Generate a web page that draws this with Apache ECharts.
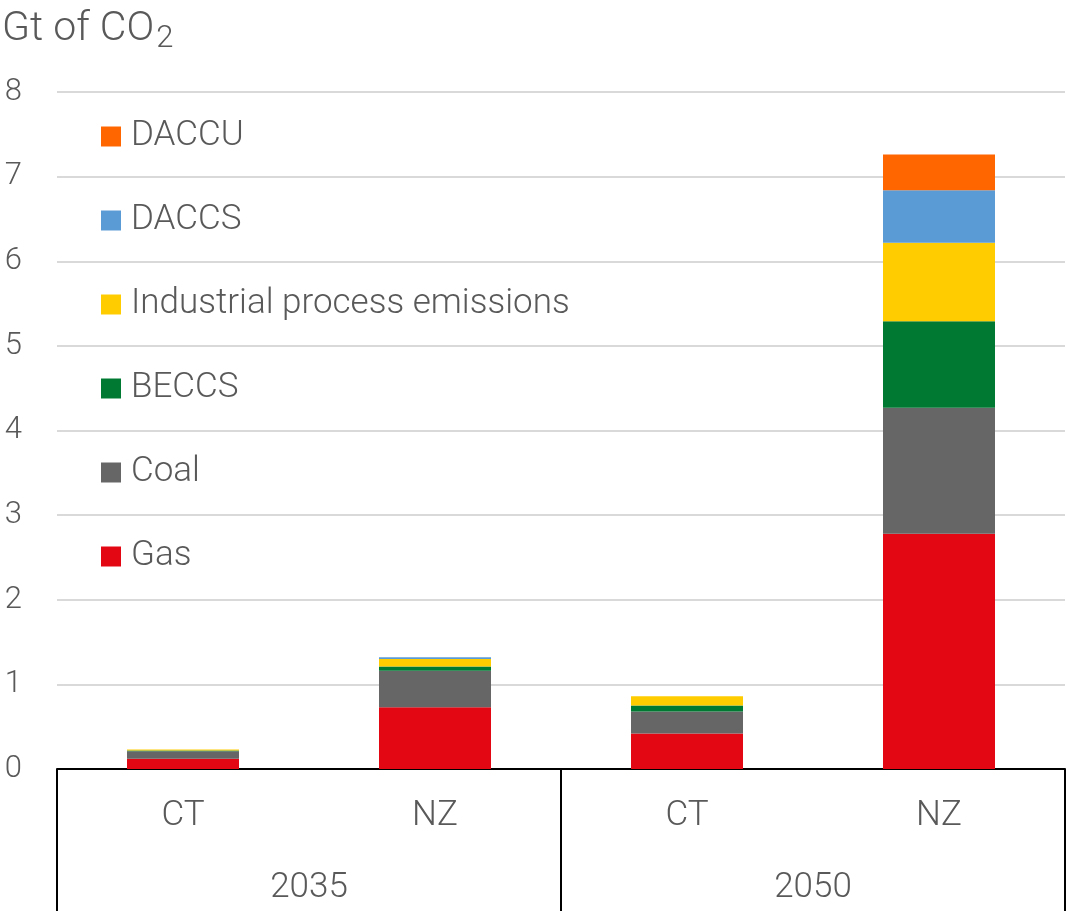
<!DOCTYPE html>
<html>
<head>
<meta charset="utf-8">
<script src="https://cdn.jsdelivr.net/npm/echarts@6/dist/echarts.min.js"></script>
<style>
  html, body { margin: 0; padding: 0; background: #fff; }
  #chart { width: 1066px; height: 911px; }
</style>
</head>
<body>
<div id="chart"></div>
<script>
// Scenario bars grouped by year
const scenarios = ['CT', 'NZ', 'CT', 'NZ'];
const years = ['2035', '2050'];
const yTicks = [0, 1, 2, 3, 4, 5, 6, 7, 8];

// Captured CO2 by source, Gt (one value per scenario bar)
const gas        = [0.12, 0.73, 0.42, 2.78];
const coal       = [0.09, 0.43, 0.26, 1.49];
const beccs      = [0.01, 0.05, 0.07, 1.02];
const industrial = [0.01, 0.09, 0.11, 0.93];
const daccs      = [0.00, 0.02, 0.00, 0.62];
const daccu      = [0.00, 0.00, 0.00, 0.42];

const FONT = 'Roboto';
const TEXT = '#595959';

const seriesDefs = [
  { name: 'Gas', data: gas, color: '#E30613' },
  { name: 'Coal', data: coal, color: '#666666' },
  { name: 'BECCS', data: beccs, color: '#007A33' },
  { name: 'Industrial process emissions', data: industrial, color: '#FFCC00' },
  { name: 'DACCS', data: daccs, color: '#5B9BD5' },
  { name: 'DACCU', data: daccu, color: '#FF6600' }
];

const chart = echarts.init(document.getElementById('chart'));
chart.setOption({
  animation: false,
  textStyle: { fontFamily: FONT },
  title: {
    text: 'Gt of CO{sub|2}',
    left: -3,
    top: -1,
    textStyle: {
      fontFamily: FONT, fontWeight: 300, fontSize: 41, color: TEXT,
      rich: { sub: { fontFamily: FONT, fontWeight: 300, fontSize: 31, color: TEXT, padding: [20, 0, 0, 2] } }
    }
  },
  legend: {
    orient: 'vertical',
    left: 101,
    top: 119,
    padding: 0,
    itemWidth: 20,
    itemHeight: 20,
    itemGap: 49,
    icon: 'rect',
    data: ['DACCU', 'DACCS', 'Industrial process emissions', 'BECCS', 'Coal', 'Gas'],
    textStyle: { fontFamily: FONT, fontWeight: 300, fontSize: 35, color: TEXT, padding: [0, 0, 0, 5] }
  },
  grid: { left: 57, right: 1, top: 92, bottom: 142, containLabel: false },
  xAxis: [
    {
      type: 'category',
      data: scenarios,
      position: 'bottom',
      axisLine: { show: false },
      axisTick: { show: false },
      axisLabel: { fontFamily: FONT, fontWeight: 300, fontSize: 35, color: TEXT, margin: 30 }
    },
    {
      type: 'category',
      data: years,
      position: 'bottom',
      offset: 0,
      axisLine: { show: true, lineStyle: { color: '#000', width: 2 } },
      axisTick: { show: true, length: 150, lineStyle: { color: '#000', width: 2 } },
      axisLabel: { fontFamily: FONT, fontWeight: 300, fontSize: 35, color: TEXT, margin: 102 }
    }
  ],
  yAxis: {
    type: 'value',
    min: 0,
    max: 8,
    interval: 1,
    axisLine: { show: false },
    axisTick: { show: false },
    axisLabel: {
      fontFamily: FONT, fontWeight: 300, fontSize: 31, color: TEXT, margin: 35,
      formatter: v => yTicks.includes(v) ? String(v) : ''
    },
    splitLine: { lineStyle: { color: '#D9D9D9', width: 2 } }
  },
  series: seriesDefs.map(s => ({
    name: s.name,
    type: 'bar',
    stack: 'total',
    xAxisIndex: 0,
    barWidth: 112,
    data: s.data,
    itemStyle: { color: s.color }
  }))
});
</script>
</body>
</html>
